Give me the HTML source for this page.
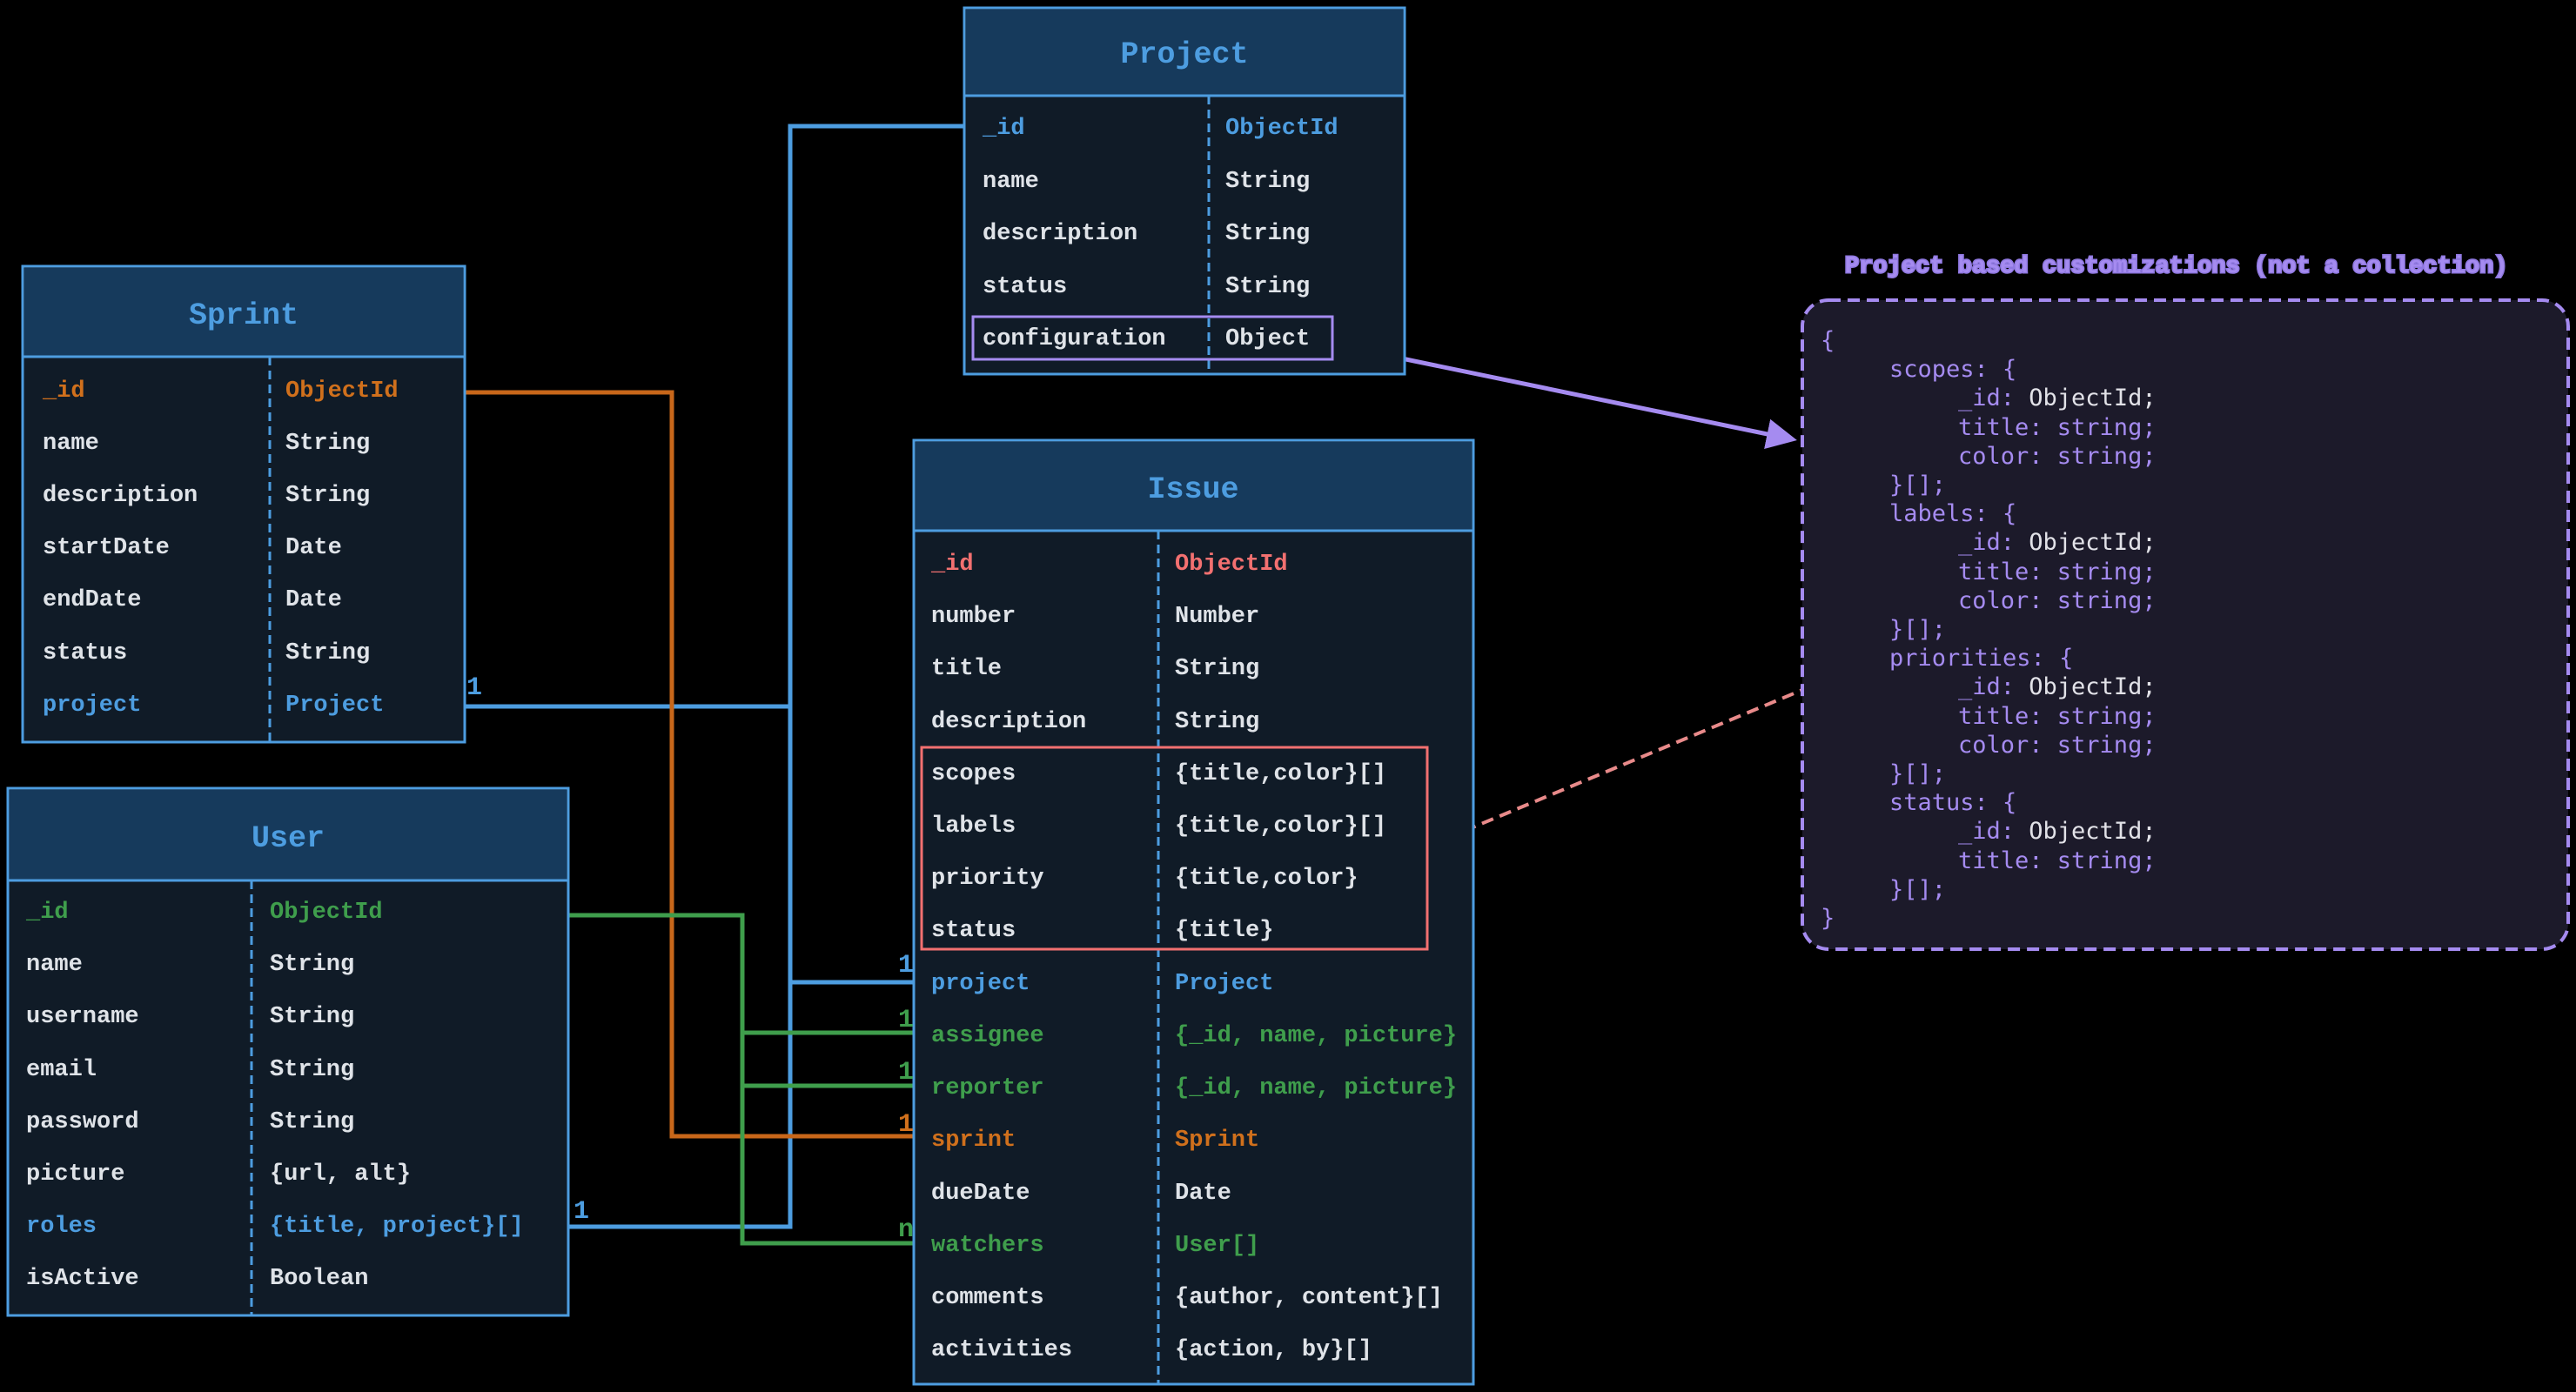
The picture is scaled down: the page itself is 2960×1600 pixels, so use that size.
<!DOCTYPE html>
<html><head><meta charset="utf-8"><style>
html,body{margin:0;padding:0;background:#000;width:2960px;height:1600px;overflow:hidden}
svg text{font-family:"Liberation Mono",monospace;font-weight:bold}
.t{font-size:27px;fill:#dfe3e8}
.h{font-size:35px;fill:#4d9de0}
.b{fill:#4d9de0}.o{fill:#d0701c}.g{fill:#3f9e4c}.r{fill:#f27070}
.c{font-family:"DejaVu Sans Mono",monospace !important;font-weight:normal !important;font-size:27px;fill:#a58bf0}
.w{fill:#e2e2e8}
.card{font-size:30px}
</style></head><body>
<svg width="2960" height="1600" viewBox="0 0 2960 1600" xmlns="http://www.w3.org/2000/svg">
<rect width="2960" height="1600" fill="#000"/>
<defs>
<marker id="ar" markerWidth="7" markerHeight="7" refX="6" refY="3.5" orient="auto" markerUnits="strokeWidth"><path d="M0,0 L7,3.5 L0,7 z" fill="#a58bf0"/></marker>
</defs>

<g fill="none" stroke-width="5">
<g stroke="#4d9de0">
<path d="M1108,145 H908 V1410 H653"/>
<path d="M534,812 H908"/>
<path d="M908,1129 H1050"/>
</g>
<path stroke="#c8671a" d="M534,451 H772 V1306 H1050"/>
<g stroke="#3f9e4c">
<path d="M653,1052 H853 V1429 H1050"/>
<path d="M853,1187 H1050"/>
<path d="M853,1248 H1050"/>
</g>
<path stroke="#a58bf0" d="M1531,395 L1625,415 L2060,505" marker-end="url(#ar)" stroke-width="5"/>
<path stroke="#e88a8a" stroke-dasharray="14,8" stroke-width="4" d="M1642,972 L2071,793"/>
</g>

<rect x="1108" y="9" width="506" height="421" fill="#101b27" stroke="#4d9de0" stroke-width="3"/>
<rect x="1110" y="11" width="502" height="99" fill="#163a5c"/>
<line x1="1108" y1="110" x2="1614" y2="110" stroke="#4d9de0" stroke-width="3"/>
<line x1="1389" y1="110" x2="1389" y2="430" stroke="#4d9de0" stroke-width="3" stroke-dasharray="10,6"/>
<text class="h" x="1361" y="72" text-anchor="middle">Project</text>
<rect x="1118" y="364" width="413" height="49" fill="none" stroke="#a58bf0" stroke-width="3"/>
<g class="t">
<text x="1129" y="154" class="b">_id</text><text x="1408" y="154" class="b">ObjectId</text>
<text x="1129" y="215">name</text><text x="1408" y="215">String</text>
<text x="1129" y="275">description</text><text x="1408" y="275">String</text>
<text x="1129" y="336">status</text><text x="1408" y="336">String</text>
<text x="1129" y="396">configuration</text><text x="1408" y="396">Object</text>
</g>

<rect x="26" y="306" width="508" height="547" fill="#101b27" stroke="#4d9de0" stroke-width="3"/>
<rect x="28" y="308" width="504" height="102" fill="#163a5c"/>
<line x1="26" y1="410" x2="534" y2="410" stroke="#4d9de0" stroke-width="3"/>
<line x1="310" y1="410" x2="310" y2="853" stroke="#4d9de0" stroke-width="3" stroke-dasharray="10,6"/>
<text class="h" x="280" y="372" text-anchor="middle">Sprint</text>
<g class="t">
<text x="49" y="456" class="o">_id</text><text x="328" y="456" class="o">ObjectId</text>
<text x="49" y="516">name</text><text x="328" y="516">String</text>
<text x="49" y="576">description</text><text x="328" y="576">String</text>
<text x="49" y="636">startDate</text><text x="328" y="636">Date</text>
<text x="49" y="696">endDate</text><text x="328" y="696">Date</text>
<text x="49" y="757">status</text><text x="328" y="757">String</text>
<text x="49" y="817" class="b">project</text><text x="328" y="817" class="b">Project</text>
</g>

<rect x="9" y="906" width="644" height="606" fill="#101b27" stroke="#4d9de0" stroke-width="3"/>
<rect x="11" y="908" width="640" height="104" fill="#163a5c"/>
<line x1="9" y1="1012" x2="653" y2="1012" stroke="#4d9de0" stroke-width="3"/>
<line x1="289" y1="1012" x2="289" y2="1512" stroke="#4d9de0" stroke-width="3" stroke-dasharray="10,6"/>
<text class="h" x="331" y="973" text-anchor="middle">User</text>
<g class="t">
<text x="30" y="1055" class="g">_id</text><text x="310" y="1055" class="g">ObjectId</text>
<text x="30" y="1115">name</text><text x="310" y="1115">String</text>
<text x="30" y="1175">username</text><text x="310" y="1175">String</text>
<text x="30" y="1236">email</text><text x="310" y="1236">String</text>
<text x="30" y="1296">password</text><text x="310" y="1296">String</text>
<text x="30" y="1356">picture</text><text x="310" y="1356">{url, alt}</text>
<text x="30" y="1416" class="b">roles</text><text x="310" y="1416" class="b">{title, project}[]</text>
<text x="30" y="1476">isActive</text><text x="310" y="1476">Boolean</text>
</g>

<rect x="1050" y="506" width="643" height="1085" fill="#101b27" stroke="#4d9de0" stroke-width="3"/>
<rect x="1052" y="508" width="639" height="102" fill="#163a5c"/>
<line x1="1050" y1="610" x2="1693" y2="610" stroke="#4d9de0" stroke-width="3"/>
<line x1="1331" y1="610" x2="1331" y2="1591" stroke="#4d9de0" stroke-width="3" stroke-dasharray="10,6"/>
<text class="h" x="1371" y="572" text-anchor="middle">Issue</text>
<rect x="1059" y="859" width="581" height="232" fill="none" stroke="#f27070" stroke-width="3"/>
<g class="t">
<text x="1070" y="655" class="r">_id</text><text x="1350" y="655" class="r">ObjectId</text>
<text x="1070" y="715">number</text><text x="1350" y="715">Number</text>
<text x="1070" y="775">title</text><text x="1350" y="775">String</text>
<text x="1070" y="836">description</text><text x="1350" y="836">String</text>
<text x="1070" y="896">scopes</text><text x="1350" y="896">{title,color}[]</text>
<text x="1070" y="956">labels</text><text x="1350" y="956">{title,color}[]</text>
<text x="1070" y="1016">priority</text><text x="1350" y="1016">{title,color}</text>
<text x="1070" y="1076">status</text><text x="1350" y="1076">{title}</text>
<text x="1070" y="1137" class="b">project</text><text x="1350" y="1137" class="b">Project</text>
<text x="1070" y="1197" class="g">assignee</text><text x="1350" y="1197" class="g">{_id, name, picture}</text>
<text x="1070" y="1257" class="g">reporter</text><text x="1350" y="1257" class="g">{_id, name, picture}</text>
<text x="1070" y="1317" class="o">sprint</text><text x="1350" y="1317" class="o">Sprint</text>
<text x="1070" y="1378">dueDate</text><text x="1350" y="1378">Date</text>
<text x="1070" y="1438" class="g">watchers</text><text x="1350" y="1438" class="g">User[]</text>
<text x="1070" y="1498">comments</text><text x="1350" y="1498">{author, content}[]</text>
<text x="1070" y="1558">activities</text><text x="1350" y="1558">{action, by}[]</text>
</g>

<g class="card">
<text x="536" y="798" class="b">1</text>
<text x="659" y="1400" class="b">1</text>
<text x="1032" y="1117" class="b">1</text>
<text x="1032" y="1180" class="g">1</text>
<text x="1032" y="1240" class="g">1</text>
<text x="1032" y="1300" class="o">1</text>
<text x="1032" y="1421" class="g">n</text>
</g>

<text x="2120" y="313" style="font-size:27px;fill:#a58bf0;stroke:#8f78e0;stroke-width:3px;paint-order:stroke">Project based customizations (not a collection)</text>
<rect x="2071" y="345" width="880" height="746" rx="30" fill="#1c1a2a" stroke="#a58bf0" stroke-width="4" stroke-dasharray="14,8"/>
<g class="c">
<text class="c" x="2092" y="400">{</text>
<text class="c" x="2171" y="433">scopes: {</text>
<text class="c" x="2250" y="466">_id: <tspan class="w">ObjectId;</tspan></text>
<text class="c" x="2250" y="500">title: string;</text>
<text class="c" x="2250" y="533">color: string;</text>
<text class="c" x="2171" y="566">}[];</text>
<text class="c" x="2171" y="599">labels: {</text>
<text class="c" x="2250" y="632">_id: <tspan class="w">ObjectId;</tspan></text>
<text class="c" x="2250" y="666">title: string;</text>
<text class="c" x="2250" y="699">color: string;</text>
<text class="c" x="2171" y="732">}[];</text>
<text class="c" x="2171" y="765">priorities: {</text>
<text class="c" x="2250" y="798">_id: <tspan class="w">ObjectId;</tspan></text>
<text class="c" x="2250" y="832">title: string;</text>
<text class="c" x="2250" y="865">color: string;</text>
<text class="c" x="2171" y="898">}[];</text>
<text class="c" x="2171" y="931">status: {</text>
<text class="c" x="2250" y="964">_id: <tspan class="w">ObjectId;</tspan></text>
<text class="c" x="2250" y="998">title: string;</text>
<text class="c" x="2171" y="1031">}[];</text>
<text class="c" x="2092" y="1064">}</text>
</g>
</svg>
</body></html>
